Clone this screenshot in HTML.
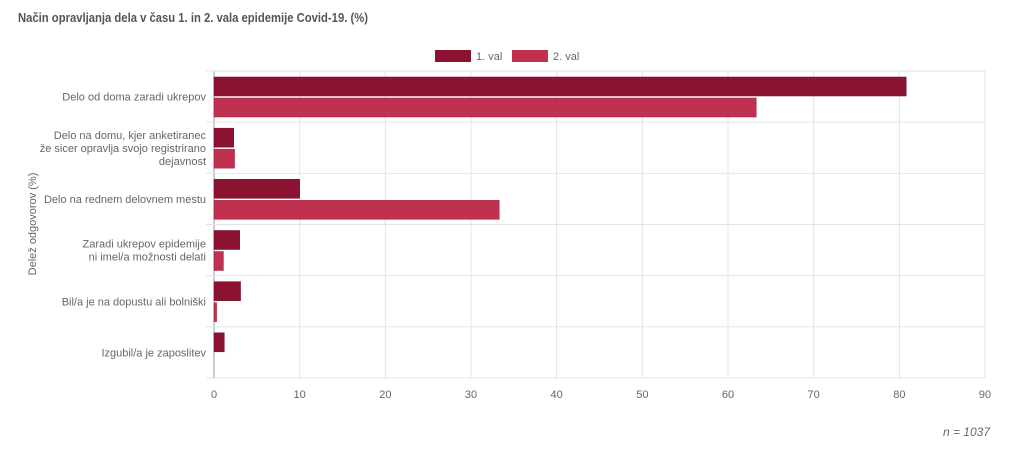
<!DOCTYPE html>
<html><head><meta charset="utf-8"><style>
body{margin:0;background:#fff;font-family:"Liberation Sans",sans-serif;}
svg text{font-family:"Liberation Sans",sans-serif;}
</style></head><body>
<svg width="1024" height="448" id="c">
<text x="18" y="22" font-size="13" font-weight="bold" fill="#555" textLength="350" lengthAdjust="spacingAndGlyphs">Način opravljanja dela v času 1. in 2. vala epidemije Covid-19. (%)</text>
<g>
<rect x="435" y="50" width="36" height="12" fill="#8b1230"/>
<text x="476" y="60" font-size="11" fill="#666">1. val</text>
<rect x="512" y="50" width="36" height="12" fill="#c0304f"/>
<text x="553" y="60" font-size="11" fill="#666">2. val</text>
</g>
<text transform="translate(36,224) rotate(-90)" text-anchor="middle" font-size="11" fill="#666">Delež odgovorov (%)</text>
<text x="990" y="436" text-anchor="end" font-size="12" font-style="italic" fill="#666">n = 1037</text>
<g id="plot"></g>
</svg>
<script>
const categories=[["Delo od doma zaradi ukrepov"],["Delo na domu, kjer anketiranec","že sicer opravlja svojo registrirano","dejavnost"],["Delo na rednem delovnem mestu"],["Zaradi ukrepov epidemije","ni imel/a možnosti delati"],["Bil/a je na dopustu ali bolniški"],["Izgubil/a je zaposlitev"]];
const val1=[80.8,2.3,10,3,3.1,1.2];
const val2=[63.3,2.4,33.3,1.1,0.3,0];
const ticks=[0,10,20,30,40,50,60,70,80,90];
const X0=214,X1=985,Y0=71,Y1=378,MAX=90;
const ns="http://www.w3.org/2000/svg";
const g=document.getElementById('plot');
const xs=v=>X0+(X1-X0)*v/MAX;
const band=(Y1-Y0)/categories.length;
function mk(t,a){const e=document.createElementNS(ns,t);for(const k in a)e.setAttribute(k,a[k]);g.appendChild(e);return e;}
ticks.forEach((t,i)=>{
 const l=mk('line',{x1:xs(t),x2:xs(t),y1:Y0,y2:Y1,stroke:i==0?'#999':'#e4e4e4'});
 
 
 const tx=mk('text',{x:xs(t),y:Y1+20,'text-anchor':'middle','font-size':11,fill:'#666'});
 tx.textContent=t;
 
 
});
for(let i=0;i<=categories.length;i++){
 const l=mk('line',{x1:X0-8,x2:X1,y1:Y0+i*band,y2:Y0+i*band,stroke:'#e4e4e4'});
 
 
}
categories.forEach((c,i)=>{
 const y=Y0+i*band;
 const r1=mk('rect',{x:X0,y:y+6,width:Math.max(0,xs(val1[i])-X0),height:19,fill:'#8b1230',stroke:'#6e0c24','stroke-width':0.5});
 
 
 if(val2[i]>0){
 const r2=mk('rect',{x:X0,y:y+27,width:xs(val2[i])-X0,height:19,fill:'#c0304f',stroke:'#a02040','stroke-width':0.5});
 
 }
 const n=c.length,mid=y+band/2;
 c.forEach((line,j)=>{
  const t=mk('text',{x:206,y:mid+4+(j-(n-1)/2)*13,'text-anchor':'end','font-size':11,fill:'#666'});
  t.textContent=line;
  
  
 });
});
</script>
</body></html>
